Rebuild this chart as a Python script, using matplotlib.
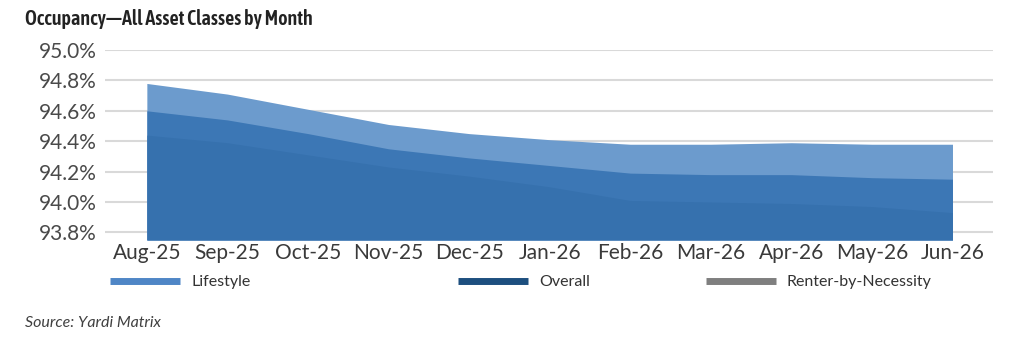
import matplotlib
matplotlib.use("Agg")
import matplotlib.pyplot as plt
from matplotlib.lines import Line2D

months = ["Aug-25", "Sep-25", "Oct-25", "Nov-25", "Dec-25", "Jan-26",
          "Feb-26", "Mar-26", "Apr-26", "May-26", "Jun-26"]
lifestyle = [94.78, 94.71, 94.61, 94.51, 94.45, 94.41, 94.38, 94.38, 94.39, 94.38, 94.38]
overall = [94.60, 94.54, 94.45, 94.35, 94.29, 94.24, 94.19, 94.18, 94.18, 94.16, 94.15]
rbn = [94.44, 94.39, 94.31, 94.23, 94.17, 94.10, 94.01, 94.00, 93.99, 93.97, 93.93]
yticks = [93.8, 94.0, 94.2, 94.4, 94.6, 94.8, 95.0]

body = ["Lato", "DejaVu Sans"]
cond = ["Asap Condensed", "DejaVu Sans"]

fig = plt.figure(figsize=(10.24, 3.38), dpi=100)
ax = fig.add_axes([0.1025, 0.29, 0.867, 0.562])

x = range(len(months))
base = 93.75
ax.fill_between(x, base, lifestyle, color="#6c9bcd", lw=0, zorder=2)
ax.fill_between(x, base, overall, color="#3c77b5", lw=0, zorder=3)
ax.fill_between(x, base, rbn, color="#3671ae", lw=0, zorder=4)

ax.set_xlim(-0.52, 10.5)
ax.set_ylim(93.75, 95.0)
ax.set_yticks(yticks)
ax.set_yticklabels([f"{v:.1f}%" for v in yticks], fontsize=15, color="#4a4a4a",
                   family=body)
ax.set_xticks(list(x))
ax.set_xticklabels(months, fontsize=15, color="#3a3a3a", family=body)
ax.tick_params(length=0, pad=2)
ax.tick_params(axis="y", pad=6)
ax.grid(axis="y", color="#d9d9d9", lw=1.5, zorder=1)
ax.set_axisbelow(True)
for s in ax.spines.values():
    s.set_visible(False)

fig.text(0.024, 0.945, "Occupancy\u2014All Asset Classes by Month", fontsize=14.5,
         weight="semibold", family=cond, color="#222222", va="center")

entries = [("Lifestyle", "#4f86c6", 0.107), ("Overall", "#1d4f7f", 0.447),
           ("Renter-by-Necessity", "#7f7f7f", 0.689)]
for lab, col, xpos in entries:
    h = Line2D([], [], color=col, lw=5, solid_capstyle="butt")
    leg = fig.legend([h], [lab], loc="center left", bbox_to_anchor=(xpos, 0.165),
                     frameon=False, handlelength=4.4, handletextpad=0.7,
                     borderpad=0, borderaxespad=0,
                     prop={"family": body, "size": 11.5})
    for t in leg.get_texts():
        t.set_color("#333333")

fig.text(0.024, 0.045, "Source: Yardi Matrix", fontsize=11.5, style="italic",
         family=body, color="#404040", va="center")

fig.savefig("out.png", dpi=100)
